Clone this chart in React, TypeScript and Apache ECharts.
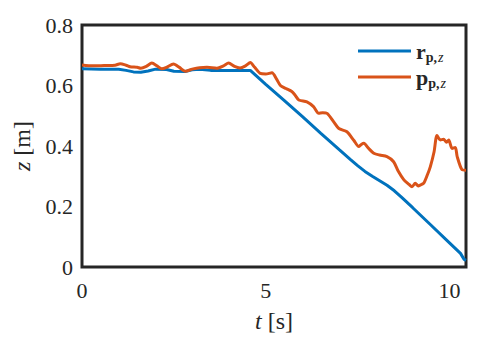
import React, { useEffect, useRef } from "react";
import * as echarts from "echarts";

const xTicks = [0, 5, 10];
const yTicks = [0, 0.2, 0.4, 0.6, 0.8];
const xMax = 10.45;

const seriesNames = ["r", "p"];
const seriesColors = ["#0072BD", "#D95319"];

const refZ: [number, number][] = [
  [0, 0.655], [0.5, 0.654], [1.0, 0.654], [1.2, 0.65], [1.4, 0.645], [1.6, 0.644],
  [1.8, 0.648], [2.0, 0.654], [2.3, 0.653], [2.5, 0.647], [2.8, 0.646], [3.0, 0.652],
  [3.2, 0.654], [3.5, 0.65], [4.0, 0.65], [4.58, 0.65],
  [5.0, 0.604], [5.5, 0.551], [6.0, 0.497], [6.5, 0.442], [7.0, 0.388], [7.3, 0.356],
  [7.5, 0.335], [7.7, 0.316], [7.9, 0.3], [8.1, 0.285], [8.3, 0.27], [8.5, 0.252],
  [8.7, 0.23], [9.0, 0.196], [9.5, 0.138], [10.0, 0.08], [10.3, 0.045], [10.4, 0.025],
  [10.45, 0.022],
];

const posZ: [number, number][] = [
  [0, 0.668], [0.3, 0.665], [0.6, 0.666], [0.9, 0.667], [1.04, 0.672], [1.2, 0.667],
  [1.31, 0.662], [1.5, 0.66], [1.6, 0.657], [1.75, 0.663], [1.9, 0.674], [2.05, 0.664],
  [2.17, 0.655], [2.3, 0.66], [2.49, 0.671], [2.65, 0.66], [2.81, 0.647], [3.0, 0.654],
  [3.2, 0.659], [3.4, 0.66], [3.67, 0.657], [3.85, 0.665], [3.99, 0.674], [4.15, 0.663],
  [4.3, 0.658], [4.45, 0.665], [4.58, 0.676], [4.7, 0.66], [4.85, 0.64], [5.0, 0.638],
  [5.17, 0.642], [5.3, 0.62], [5.4, 0.6], [5.55, 0.59], [5.71, 0.58], [5.8, 0.568],
  [5.9, 0.552], [6.12, 0.546], [6.3, 0.53], [6.44, 0.508], [6.55, 0.51], [6.67, 0.508],
  [6.85, 0.48], [6.99, 0.458], [7.21, 0.447], [7.4, 0.418], [7.53, 0.398], [7.6, 0.405],
  [7.67, 0.409], [7.8, 0.392], [7.94, 0.376], [8.1, 0.37], [8.3, 0.365], [8.48, 0.348],
  [8.6, 0.318], [8.76, 0.288], [8.9, 0.273], [8.98, 0.265], [9.07, 0.277], [9.15, 0.268],
  [9.21, 0.271], [9.3, 0.277], [9.4, 0.305], [9.48, 0.332], [9.58, 0.38], [9.66, 0.435],
  [9.75, 0.42], [9.84, 0.422], [9.92, 0.412], [9.98, 0.42], [10.07, 0.392], [10.16, 0.395],
  [10.21, 0.365], [10.34, 0.322], [10.45, 0.32],
];

const FONT = "Liberation Serif";
const TXT = "#262626";

export default function App() {
  const ref = useRef<HTMLDivElement>(null);
  useEffect(() => {
    if (!ref.current) return;
    const chart = echarts.init(ref.current, undefined, { renderer: "svg" });
    const legendRich = {
      b: { fontFamily: FONT, fontWeight: "bold", fontSize: 22, color: TXT, lineHeight: 20 },
      s: { fontFamily: FONT, fontWeight: "bold", fontSize: 14, color: TXT, lineHeight: 14, padding: [12, 0, 0, 0] },
      si: { fontFamily: FONT, fontStyle: "italic", fontSize: 14, color: TXT, lineHeight: 14, padding: [12, 0, 0, 1] },
    };
    chart.setOption({
      animation: false,
      textStyle: { fontFamily: FONT },
      grid: {
        left: 82, right: 32, top: 25, bottom: 77,
        show: true, borderColor: TXT, borderWidth: 3,
      },
      legend: {
        orient: "vertical",
        left: 353,
        top: 33,
        itemWidth: 53,
        itemHeight: 3,
        itemGap: 0,
        icon: "rect",
        formatter: "{b|{name}}{s|p,}{si|z}",
        textStyle: { fontFamily: FONT, fontSize: 22, color: TXT, rich: legendRich },
      },
      xAxis: {
        type: "value",
        min: xTicks[0],
        max: xMax,
        interval: xTicks[1] - xTicks[0],
        splitLine: { show: false },
        axisTick: { show: false },
        axisLine: { show: false },
        axisLabel: {
          fontFamily: FONT, fontSize: 22, color: TXT, margin: 12, showMaxLabel: false,
        },
        name: "{i|t} [s]",
        nameLocation: "middle",
        nameGap: 42,
        nameTextStyle: {
          fontFamily: FONT, fontSize: 24, color: TXT,
          rich: { i: { fontFamily: FONT, fontStyle: "italic", fontSize: 24, color: TXT } },
        },
      },
      yAxis: {
        type: "value",
        min: yTicks[0],
        max: yTicks[yTicks.length - 1],
        interval: yTicks[1] - yTicks[0],
        splitLine: { show: false },
        axisTick: { show: false },
        axisLine: { show: false },
        axisLabel: {
          fontFamily: FONT, fontSize: 22, color: TXT, margin: 9,
        },
        name: "{i|z} [m]",
        nameLocation: "middle",
        nameRotate: 90,
        nameGap: 48,
        nameTextStyle: {
          fontFamily: FONT, fontSize: 24, color: TXT,
          rich: { i: { fontFamily: FONT, fontStyle: "italic", fontSize: 24, color: TXT } },
        },
      },
      series: [
        {
          name: seriesNames[0],
          type: "line",
          data: refZ,
          showSymbol: false,
          symbol: "none",
          lineStyle: { color: seriesColors[0], width: 3 },
          itemStyle: { color: seriesColors[0] },
        },
        {
          name: seriesNames[1],
          type: "line",
          data: posZ,
          showSymbol: false,
          symbol: "none",
          smooth: 0.25,
          lineStyle: { color: seriesColors[1], width: 3 },
          itemStyle: { color: seriesColors[1] },
        },
      ],
    });
    return () => chart.dispose();
  }, []);
  return (
    <div
      ref={ref}
      style={{ width: 498, height: 344, position: "absolute", left: 0, top: 0, background: "#fff" }}
    />
  );
}
